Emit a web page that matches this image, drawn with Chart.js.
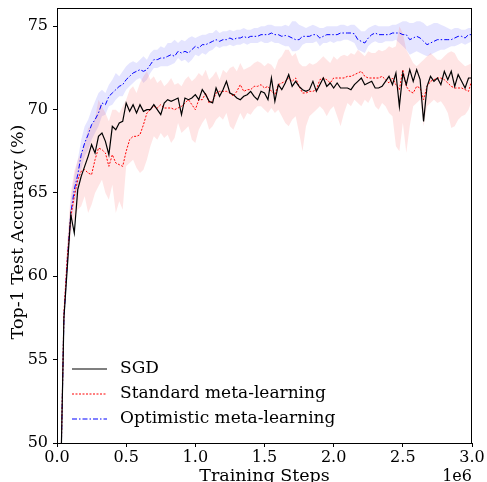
<!DOCTYPE html>
<html>
<head>
<meta charset="utf-8">
<script src="https://cdn.jsdelivr.net/npm/chart.js@4.4.0/dist/chart.umd.min.js"></script>
<style>
  body { margin: 0; background: #fff; }
  canvas { display: block; }
</style>
</head>
<body>
<canvas id="accChart" width="487" height="482"></canvas>
<script>
// evaluation every 25k steps, 25k .. 3M
const steps = [];
for (let i = 1; i <= 120; i++) steps.push(i * 25000);

const xTicks = [0, 500000, 1000000, 1500000, 2000000, 2500000, 3000000];
const yTicks = [50, 55, 60, 65, 70, 75];

const sgd = [
  47.0, 57.5, 60.6, 63.7, 62.6, 65.2, 66.0, 66.6, 67.2, 67.9,
  67.4, 68.4, 68.6, 68.1, 67.3, 69.0, 68.8, 69.2, 69.3, 70.4,
  69.9, 70.3, 69.8, 70.3, 69.9, 70.0, 70.0, 70.3, 70.0, 69.7,
  70.4, 70.6, 70.5, 70.6, 70.7, 69.7, 70.7, 70.6, 70.7, 70.9,
  70.6, 71.2, 70.9, 70.5, 70.4, 71.3, 70.8, 71.2, 71.7, 71.0,
  70.9, 70.7, 70.6, 70.8, 70.9, 71.1, 70.8, 70.6, 71.1, 71.0,
  70.6, 71.9, 70.5, 71.5, 71.2, 71.6, 72.1, 71.4, 71.7, 71.4,
  71.2, 71.1, 71.2, 71.7, 71.1, 71.5, 71.9, 71.4, 71.6, 71.3,
  71.6, 71.3, 71.3, 71.3, 71.2, 71.5, 71.7, 71.9, 71.5, 71.6,
  71.7, 71.3, 71.3, 71.4, 71.7, 72.0, 71.5, 72.2, 70.2, 72.2,
  71.5, 72.4, 71.7, 72.4, 71.8, 69.3, 71.4, 72.0, 71.7, 71.9,
  71.5, 72.3, 71.8, 72.3, 71.4, 72.1, 71.7, 71.3, 71.9, 71.9
];

const standard = [
  47.0, 57.8, 61.2, 63.6, 64.8, 65.8, 66.3, 66.4, 66.2, 66.1,
  67.0, 67.7, 67.6, 67.4, 66.6, 67.3, 66.8, 66.7, 66.6, 67.5,
  68.2, 68.4, 68.4, 68.5, 69.1, 69.8, 70.0, 70.2, 70.1, 70.3,
  70.1, 70.1, 70.1, 70.0, 70.1, 70.2, 70.4, 70.6, 70.3, 70.0,
  70.6, 70.6, 71.0, 70.4, 70.5, 71.0, 71.1, 71.1, 71.1, 71.0,
  70.8, 71.1, 71.5, 71.1, 71.2, 71.2, 71.4, 71.4, 71.5, 71.3,
  71.4, 71.1, 70.9, 71.5, 71.6, 71.7, 71.9, 71.7, 71.9, 71.4,
  71.0, 71.0, 71.1, 71.1, 71.2, 71.8, 71.9, 71.8, 71.6, 71.9,
  71.9, 71.9, 71.9, 72.0, 72.0, 72.1, 72.2, 72.3, 72.0, 71.9,
  71.9, 71.9, 71.9, 72.0, 71.8, 71.6, 71.9, 71.5, 71.2, 72.4,
  71.4, 71.1, 71.0, 71.4, 71.3, 70.6, 71.4, 71.7, 71.8, 71.9,
  71.9, 71.8, 71.6, 71.4, 71.3, 71.3, 71.3, 71.2, 71.1, 71.8
];
const standardHigh = [
  48.0, 58.5, 62.3, 65.0, 66.3, 67.0, 67.4, 68.0, 68.9, 69.0,
  69.5, 70.6, 70.2, 69.8, 69.3, 70.0, 70.0, 69.8, 70.2, 70.6,
  71.2, 71.4, 71.0, 71.6, 72.0, 72.3, 71.8, 72.0, 71.6, 71.8,
  71.4, 71.6, 71.9, 71.5, 71.6, 71.4, 71.8, 72.0, 71.7, 71.9,
  72.2, 72.0, 72.4, 71.8, 72.0, 72.3, 71.8, 72.4, 72.2, 72.5,
  72.6, 72.3, 72.8, 72.4, 72.5, 72.6, 72.8, 72.9, 72.8, 72.6,
  72.8, 72.7, 72.4, 73.0, 73.2, 73.6, 73.6, 73.2, 73.4, 72.8,
  72.6, 72.6, 72.8, 72.7, 72.8, 73.0, 73.2, 73.0, 72.8, 73.2,
  73.0, 73.2, 73.3, 73.2, 73.4, 73.3, 73.6, 73.4, 73.2, 73.5,
  73.4, 73.4, 73.6, 73.5, 73.6, 73.8, 73.7, 73.8, 75.0, 74.6,
  73.6, 73.2, 72.8, 72.6, 72.8, 73.0, 73.2, 73.4, 73.2, 73.0,
  73.0, 73.2, 73.4, 73.5, 73.4, 73.0, 72.8, 72.6, 72.7, 72.8
];
const standardLow = [
  46.0, 57.0, 60.3, 62.6, 63.4, 64.0, 64.2, 64.8, 63.8, 64.3,
  65.0, 65.4, 65.8, 65.0, 64.6, 65.5, 63.8, 64.5, 64.0, 66.6,
  66.8, 67.0, 66.5, 66.2, 66.4, 67.0, 67.8, 68.4, 68.2, 68.6,
  68.3, 68.5, 68.0, 68.3, 69.2, 68.6, 68.8, 69.0, 68.2, 68.0,
  68.8, 69.2, 69.5, 68.8, 69.0, 69.4, 69.6, 69.4, 69.8, 69.0,
  68.8, 69.3, 69.8, 69.4, 69.8, 69.7, 70.0, 70.2, 70.2, 70.0,
  69.8, 70.1, 69.8, 70.0, 69.6, 69.2, 69.0, 69.4, 69.6, 68.6,
  67.5, 69.0, 69.6, 69.8, 70.0, 70.2, 70.0, 69.6, 70.0, 70.2,
  69.6, 69.0, 69.8, 70.4, 70.2, 70.6, 70.4, 70.2, 70.6, 70.4,
  70.8, 70.2, 70.0, 70.4, 70.2, 69.8, 69.6, 67.8, 67.5, 69.2,
  67.4, 69.0, 70.2, 70.4, 70.6, 69.0, 70.2, 70.4, 70.6, 70.4,
  70.5, 70.2, 69.8, 68.9, 69.0, 69.4, 69.6, 69.7, 70.0, 70.6
];

const optimistic = [
  47.0, 57.5, 61.0, 63.8, 65.2, 66.1, 67.3, 68.0, 68.5, 69.1,
  69.4, 69.8, 70.4, 70.3, 70.8, 71.0, 71.2, 71.4, 71.5, 71.8,
  72.0, 72.2, 72.3, 72.4, 72.3, 72.4, 72.7, 73.0, 73.0, 73.1,
  73.1, 73.2, 73.3, 73.2, 73.5, 73.4, 73.5, 73.4, 73.6, 73.8,
  73.7, 73.9, 73.9, 74.0, 74.1, 74.2, 74.1, 74.2, 74.2, 74.3,
  74.2, 74.3, 74.3, 74.4, 74.3, 74.4, 74.4, 74.4, 74.5, 74.5,
  74.5, 74.6, 74.5, 74.5, 74.4, 74.45, 74.4, 74.3, 74.2, 74.2,
  74.4, 74.4, 74.4, 74.5, 74.5, 74.3, 74.4, 74.5, 74.5, 74.5,
  74.5, 74.6, 74.6, 74.6, 74.6, 74.55, 74.2, 74.1, 74.0, 74.3,
  74.5, 74.6, 74.5, 74.5, 74.5, 74.5, 74.6, 74.6, 74.6, 74.5,
  74.5, 74.2, 74.3, 74.4, 74.3, 74.1, 73.9, 74.0, 74.1, 74.2,
  74.2, 74.2, 74.2, 74.2, 74.3, 74.4, 74.4, 74.3, 74.5, 74.5
];
const optimisticHigh = [
  48.0, 58.2, 61.8, 64.6, 66.0, 67.0, 68.2, 69.0, 69.4, 70.0,
  70.5, 71.0, 71.2, 71.0, 71.5, 71.8, 72.2, 72.0, 72.3, 72.6,
  72.8, 72.9, 72.8, 73.0, 73.2, 73.0, 73.4, 73.6, 73.6, 73.8,
  73.7, 74.0, 74.0, 74.2, 74.0, 74.2, 74.1, 74.3, 74.4, 74.3,
  74.4, 74.5, 74.5, 74.6, 74.6, 74.8, 74.6, 74.7, 74.7, 74.8,
  74.7, 74.8, 74.8, 74.9, 74.8, 74.8, 74.9, 74.9, 75.0, 75.0,
  75.1, 75.1, 75.0, 75.0, 75.0, 75.1, 75.0, 75.3, 75.3, 75.1,
  75.0, 74.9, 75.0, 75.1, 75.0, 74.9, 74.9, 75.0, 75.0, 75.0,
  75.0, 75.1, 75.1, 75.0, 75.1, 75.1, 74.9, 74.7, 74.7, 74.9,
  75.0, 75.1, 75.0, 75.0, 75.0, 75.0, 75.1, 75.1, 75.2, 75.3,
  75.3, 75.2, 75.2, 75.3, 75.3, 75.2, 75.0, 75.1, 75.2, 75.2,
  75.1, 75.0, 74.9, 74.8, 74.9, 74.9, 74.8, 74.8, 74.9, 74.9
];
const optimisticLow = [
  46.0, 56.8, 60.2, 63.0, 64.4, 65.2, 66.4, 67.2, 67.6, 68.2,
  68.6, 69.0, 69.6, 69.7, 70.2, 70.3, 70.6, 70.8, 70.8, 71.2,
  71.4, 71.6, 71.8, 71.9, 71.6, 71.8, 72.2, 72.5, 72.5, 72.6,
  72.6, 72.6, 72.7, 72.8, 73.1, 72.9, 73.0, 72.8, 73.0, 73.3,
  73.2, 73.4, 73.3, 73.5, 73.6, 73.8, 73.7, 73.8, 73.8, 73.9,
  73.8, 73.9, 73.9, 74.0, 73.9, 74.0, 74.0, 74.0, 74.1, 74.0,
  74.0, 74.1, 74.0, 74.0, 73.9, 73.8, 73.8, 73.5, 73.5, 73.6,
  73.9, 74.0, 74.0, 74.0, 74.1, 73.8, 74.0, 74.0, 74.1, 74.0,
  74.1, 74.1, 74.2, 74.2, 74.1, 74.0, 73.6, 73.5, 73.4, 73.8,
  74.0, 74.1, 74.0, 74.0, 74.1, 74.1, 74.1, 74.2, 74.0, 73.8,
  73.6, 73.3, 73.4, 73.5, 73.4, 73.3, 73.2, 73.3, 73.4, 73.5,
  73.6, 73.6, 73.7, 73.8, 73.8, 73.9, 74.0, 73.9, 74.0, 74.1
];

const FONT = "'DejaVu Serif', 'Liberation Serif', serif";

function toPoints(values) {
  return values.map((v, i) => ({ x: steps[i], y: v }));
}

function line(label, values, color, dash, width, order) {
  return {
    label,
    data: toPoints(values),
    borderColor: color,
    borderWidth: width,
    borderDash: dash,
    pointRadius: 0,
    fill: false,
    tension: 0,
    order,
  };
}

function band(values, color, fill) {
  return {
    label: "",
    isBand: true,
    data: toPoints(values),
    borderWidth: 0,
    borderColor: "rgba(0,0,0,0)",
    backgroundColor: color,
    pointRadius: 0,
    fill,
    tension: 0,
    order: 10,
  };
}

// legend inside the plot, lower left, no frame
const innerLegend = {
  id: "innerLegend",
  afterDraw(chart) {
    const { ctx, chartArea } = chart;
    const rows = chart.data.datasets.filter((d) => !d.isBand);
    ctx.save();
    ctx.font = "17px " + FONT;
    ctx.textBaseline = "middle";
    ctx.fillStyle = "#000";
    rows.forEach((d, i) => {
      const y = chartArea.bottom - 74 + i * 25;
      const x0 = chartArea.left + 15;
      ctx.beginPath();
      ctx.setLineDash(d.borderDash || []);
      ctx.strokeStyle = d.borderColor;
      ctx.lineWidth = d.borderWidth;
      ctx.moveTo(x0, y);
      ctx.lineTo(x0 + 35, y);
      ctx.stroke();
      ctx.setLineDash([]);
      ctx.fillText(d.label, x0 + 48, y);
    });
    ctx.restore();
  },
};

// top/right spines, y title and the offset text of the x axis
const frame = {
  id: "frame",
  afterDraw(chart) {
    const { ctx, chartArea } = chart;
    ctx.save();
    ctx.strokeStyle = "#000";
    ctx.lineWidth = 1;
    ctx.strokeRect(chartArea.left + 0.5, chartArea.top + 0.5,
      chartArea.right - chartArea.left - 1, chartArea.bottom - chartArea.top);
    ctx.fillStyle = "#000";
    ctx.font = "16px " + FONT;
    ctx.textAlign = "right";
    ctx.textBaseline = "middle";
    ctx.fillText("1e6", chartArea.right, 477);

    ctx.translate(18, 232);
    ctx.rotate(-Math.PI / 2);
    ctx.font = "17.5px " + FONT;
    ctx.textAlign = "center";
    ctx.fillText("Top-1 Test Accuracy (%)", 0, 0);
    ctx.restore();
  },
};

const tickStyle = { family: FONT, size: 16 };

new Chart(document.getElementById("accChart"), {
  type: "line",
  data: {
    datasets: [
      line("SGD", sgd, "#000000", [], 1.2, 0),
      line("Standard meta-learning", standard, "#ff0000", [2, 1.5], 1, 1),
      line("Optimistic meta-learning", optimistic, "#0000ff", [5, 2, 1.5, 2], 1, 2),
      band(standardHigh, "rgba(255,0,0,0.1)", "+1"),
      band(standardLow, "rgba(255,0,0,0.1)", false),
      band(optimisticHigh, "rgba(0,0,255,0.1)", "+1"),
      band(optimisticLow, "rgba(0,0,255,0.1)", false),
    ],
  },
  options: {
    responsive: false,
    animation: false,
    devicePixelRatio: 1,
    layout: { padding: { top: 8, right: 15, left: 0, bottom: 0 } },
    plugins: {
      legend: { display: false },
      tooltip: { enabled: false },
    },
    scales: {
      x: {
        type: "linear",
        min: 0,
        max: 3000000,
        afterBuildTicks: (axis) => { axis.ticks = xTicks.map((v) => ({ value: v })); },
        afterFit: (axis) => { axis.height = 39; axis.paddingLeft = 0; axis.paddingRight = 0; },
        ticks: {
          color: "#000",
          font: tickStyle,
          padding: 1,
          maxRotation: 0,
          autoSkip: false,
          callback: (v) => (v / 1e6).toFixed(1),
        },
        grid: { drawOnChartArea: false, drawTicks: true, tickLength: 4, color: "#000" },
        border: { display: true, color: "#000" },
        title: {
          display: true,
          text: "Training Steps",
          color: "#000",
          font: { family: FONT, size: 17.5 },
          padding: { top: 0, bottom: -5 },
        },
      },
      y: {
        min: 50,
        max: 76.1,
        afterBuildTicks: (axis) => { axis.ticks = yTicks.map((v) => ({ value: v })); },
        afterFit: (axis) => { axis.width = 57; axis.paddingTop = 0; axis.paddingBottom = 0; },
        ticks: { color: "#000", font: tickStyle, padding: 5 },
        grid: { drawOnChartArea: false, drawTicks: true, tickLength: 4, color: "#000" },
        border: { display: true, color: "#000" },
        title: { display: false },
      },
    },
  },
  plugins: [innerLegend, frame],
});
</script>
</body>
</html>
